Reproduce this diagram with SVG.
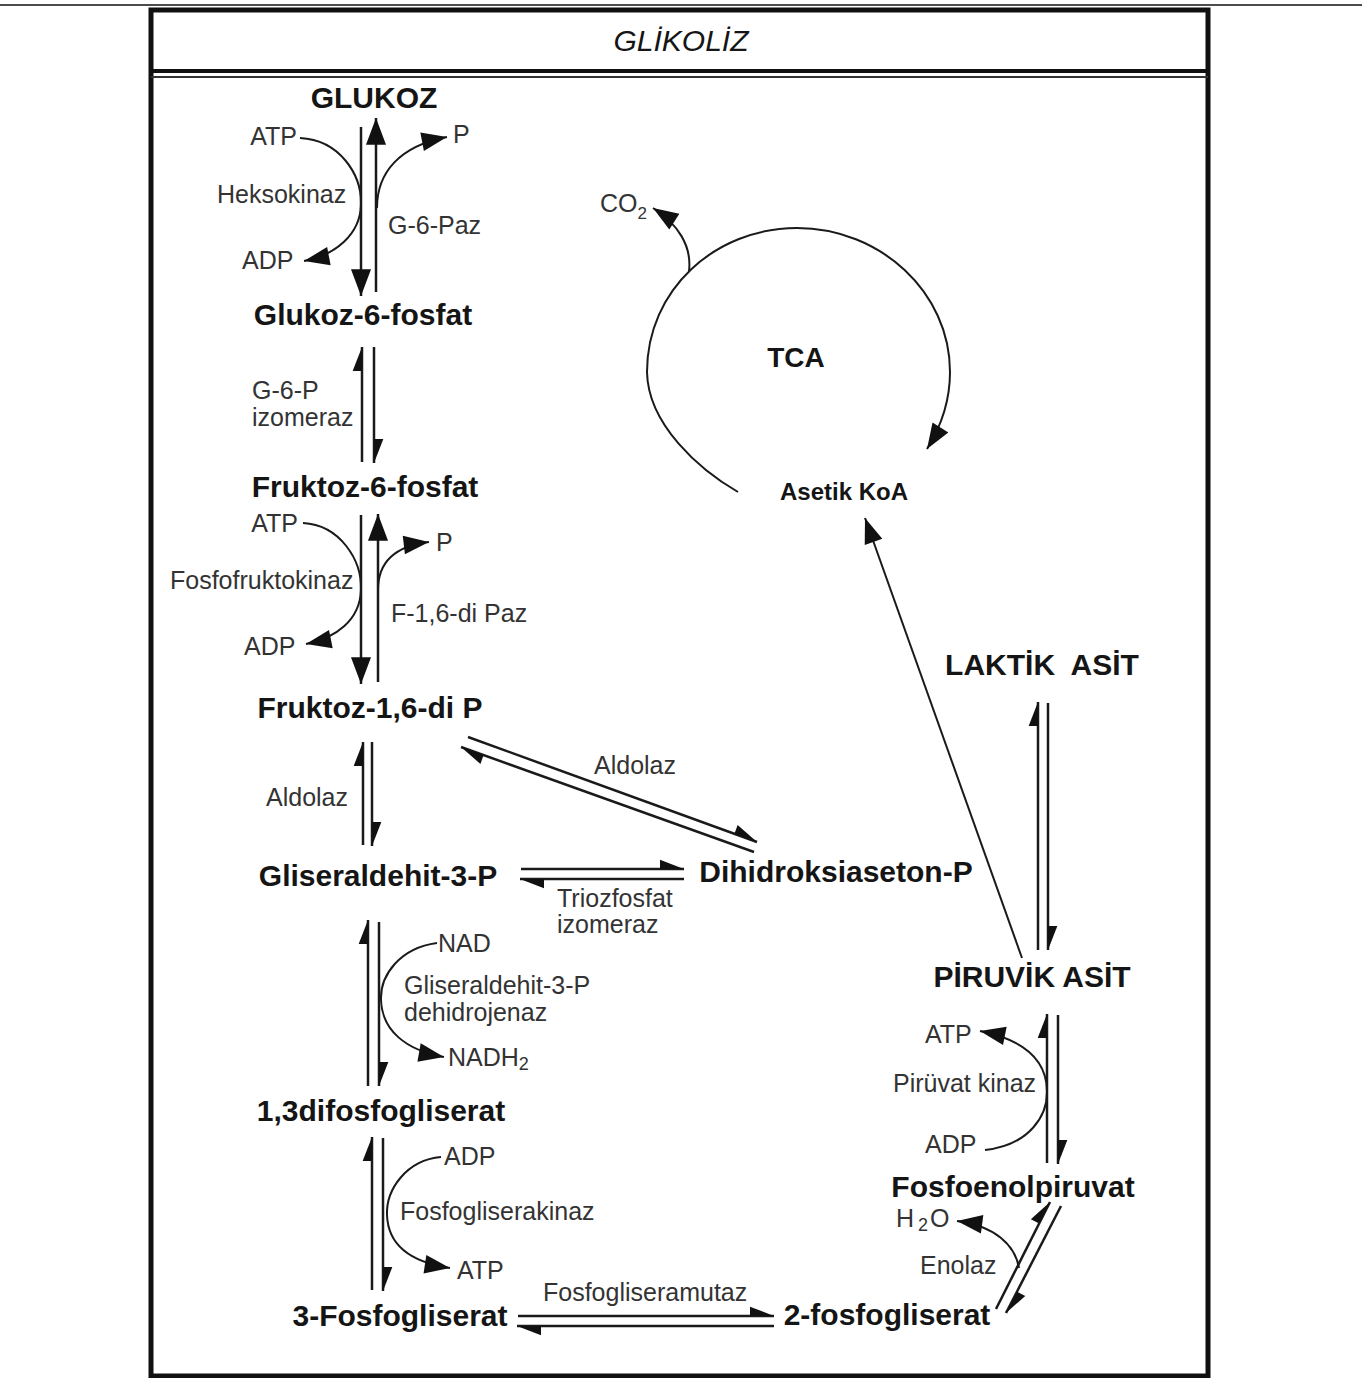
<svg xmlns="http://www.w3.org/2000/svg" width="1362" height="1378" viewBox="0 0 1362 1378">
<style>
.n{font-family:"Liberation Sans",Arial,sans-serif;font-weight:bold;font-size:30px;fill:#151515;text-anchor:middle}
.l{font-family:"Liberation Sans",Arial,sans-serif;font-size:25px;fill:#333}
.c{fill:none;stroke:#1a1a1a;stroke-width:2.5}
.cv{fill:none;stroke:#1a1a1a;stroke-width:2}
.h{marker-end:url(#harp)}
.a{marker-end:url(#arr)}
.as{marker-end:url(#arrs)}
</style>
<defs>
<marker id="arr" markerUnits="userSpaceOnUse" markerWidth="40" markerHeight="40" viewBox="-25 -10 30 20" refX="0" refY="0" orient="auto" overflow="visible">
<path d="M0,0 L-20,-7.5 L-20,7.5 Z" fill="#111"/>
</marker>
<marker id="arrs" markerUnits="userSpaceOnUse" markerWidth="40" markerHeight="40" viewBox="-25 -10 30 20" refX="0" refY="0" orient="auto" overflow="visible">
<path d="M0,0 L-19,-7 L-19,7 Z" fill="#111"/>
</marker>
<marker id="harp" markerUnits="userSpaceOnUse" markerWidth="40" markerHeight="40" viewBox="-25 -10 30 20" refX="0" refY="0" orient="auto" overflow="visible">
<path d="M0,0 L-18,-7 L-18,0 Z" fill="#111"/>
</marker>
</defs>
<rect width="1362" height="1378" fill="#fff"/>
<g id="frame">
<line x1="0" y1="5" x2="1362" y2="5" stroke="#111" stroke-width="1.5"/>
<rect x="151" y="10" width="1057" height="1366" fill="none" stroke="#111" stroke-width="5"/>
<line x1="151" y1="71" x2="1208" y2="71" stroke="#111" stroke-width="4"/>
<line x1="151" y1="77" x2="1208" y2="77" stroke="#333" stroke-width="2"/>
<text x="681" y="51" font-family="Liberation Sans, Arial, sans-serif" font-style="italic" font-size="30" fill="#151515" text-anchor="middle">GLİKOLİZ</text>
</g>
<g id="connectors">
<!-- Glukoz <-> G6P -->
<line class="c a" x1="361" y1="127" x2="361" y2="296"/>
<line class="c a" x1="376" y1="292" x2="376" y2="118"/>
<path class="cv as" d="M300,138 C340,140 362,175 361,205 C360,235 335,255 304,261"/>
<path class="cv as" d="M377,208 C377,172 400,146 447,137"/>
<!-- G6P izomeraz -->
<line class="c h" x1="362" y1="462" x2="362" y2="347"/>
<line class="c h" x1="374" y1="347" x2="374" y2="463"/>
<!-- F6P <-> F16P -->
<line class="c a" x1="361" y1="515" x2="361" y2="684"/>
<line class="c a" x1="378" y1="682" x2="378" y2="514"/>
<path class="cv as" d="M303,523 C340,525 362,560 361,590 C360,620 336,638 306,644"/>
<path class="cv as" d="M378,590 C378,562 395,546 429,542"/>
<!-- Aldolaz vertical -->
<line class="c h" x1="363" y1="845" x2="363" y2="742"/>
<line class="c h" x1="372" y1="742" x2="372" y2="846"/>
<!-- Aldolaz diagonal -->
<line class="c h" x1="468" y1="737" x2="757" y2="842"/>
<line class="c h" x1="754" y1="852" x2="461" y2="747"/>
<!-- Triozfosfat izomeraz -->
<line class="c h" x1="521" y1="869" x2="684" y2="869"/>
<line class="c h" x1="684" y1="879" x2="520" y2="879"/>
<!-- G3P <-> 1,3 -->
<line class="c h" x1="368" y1="1086" x2="368" y2="920"/>
<line class="c h" x1="379" y1="922" x2="379" y2="1086"/>
<path class="cv as" d="M437,943 C400,948 380,975 381,1000 C382,1030 405,1050 444,1057"/>
<!-- 1,3 <-> 3PG -->
<line class="c h" x1="372" y1="1290" x2="372" y2="1137"/>
<line class="c h" x1="383" y1="1138" x2="383" y2="1291"/>
<path class="cv as" d="M441,1157 C406,1160 386,1190 387,1215 C388,1245 410,1262 450,1268"/>
<!-- Fosfogliseramutaz -->
<line class="c h" x1="518" y1="1316" x2="774" y2="1316"/>
<line class="c h" x1="774" y1="1326" x2="517" y2="1326"/>
<!-- 2PG <-> PEP -->
<line class="c h" x1="996" y1="1309" x2="1050" y2="1202"/>
<line class="c h" x1="1061" y1="1206" x2="1006" y2="1313"/>
<path class="cv as" d="M1019,1268 C1015,1245 995,1226 957,1221"/>
<!-- PEP <-> Piruvik -->
<line class="c h" x1="1047" y1="1163" x2="1047" y2="1014"/>
<line class="c h" x1="1058" y1="1015" x2="1058" y2="1164"/>
<path class="cv as" d="M985,1150 C1030,1145 1048,1115 1047,1090 C1046,1060 1025,1040 980,1031"/>
<!-- Piruvik <-> Laktik -->
<line class="c h" x1="1038" y1="950" x2="1038" y2="702"/>
<line class="c h" x1="1048" y1="703" x2="1048" y2="950"/>
<!-- Piruvik -> Asetik KoA -->
<line class="cv as" x1="1022" y1="958" x2="865" y2="518"/>
<!-- TCA cycle -->
<path class="cv as" d="M738,492 C700,470 648,425 647,372 C647,290 715,228 797,228 C880,228 950,292 950,372 C950,400 942,425 927,449"/>
<path class="cv as" d="M689,271 C692,246 678,224 653,208"/>
</g>
<g id="labels">
<text class="l" x="297" y="145" text-anchor="end">ATP</text>
<text class="l" x="453" y="143">P</text>
<text class="l" x="217" y="203">Heksokinaz</text>
<text class="l" x="388" y="234">G-6-Paz</text>
<text class="l" x="242" y="269">ADP</text>
<text class="l" x="600" y="212">CO<tspan font-size="17" dx="0" dy="7">2</tspan></text>
<text class="l" x="252" y="399">G-6-P</text>
<text class="l" x="252" y="426">izomeraz</text>
<text class="l" x="298" y="532" text-anchor="end">ATP</text>
<text class="l" x="436" y="551">P</text>
<text class="l" x="170" y="589">Fosfofruktokinaz</text>
<text class="l" x="391" y="622">F-1,6-di Paz</text>
<text class="l" x="244" y="655">ADP</text>
<text class="l" x="594" y="774">Aldolaz</text>
<text class="l" x="266" y="806">Aldolaz</text>
<text class="l" x="557" y="907">Triozfosfat</text>
<text class="l" x="557" y="933">izomeraz</text>
<text class="l" x="438" y="952">NAD</text>
<text class="l" x="404" y="994">Gliseraldehit-3-P</text>
<text class="l" x="404" y="1021">dehidrojenaz</text>
<text class="l" x="448" y="1066">NADH<tspan font-size="18" dy="4">2</tspan></text>
<text class="l" x="444" y="1165">ADP</text>
<text class="l" x="400" y="1220">Fosfogliserakinaz</text>
<text class="l" x="457" y="1279">ATP</text>
<text class="l" x="543" y="1301">Fosfogliseramutaz</text>
<text class="l" x="925" y="1043">ATP</text>
<text class="l" x="893" y="1092">Pirüvat kinaz</text>
<text class="l" x="925" y="1153">ADP</text>
<text class="l" x="896" y="1227">H<tspan font-size="18" dx="4" dy="4">2</tspan><tspan dx="2" dy="-4">O</tspan></text>
<text class="l" x="920" y="1274">Enolaz</text>
</g>
<g id="glukoz"><text class="n" x="374" y="108">GLUKOZ</text></g>
<g id="glukoz-6-fosfat"><text class="n" x="363" y="325">Glukoz-6-fosfat</text></g>
<g id="fruktoz-6-fosfat"><text class="n" x="365" y="497">Fruktoz-6-fosfat</text></g>
<g id="fruktoz-1-6-di-p"><text class="n" x="370" y="718">Fruktoz-1,6-di P</text></g>
<g id="gliseraldehit-3-p"><text class="n" x="378" y="886">Gliseraldehit-3-P</text></g>
<g id="dihidroksiaseton-p"><text class="n" x="836" y="882">Dihidroksiaseton-P</text></g>
<g id="difosfogliserat"><text class="n" x="381" y="1121">1,3difosfogliserat</text></g>
<g id="fosfogliserat-3"><text class="n" x="400" y="1326">3-Fosfogliserat</text></g>
<g id="fosfogliserat-2"><text class="n" x="887" y="1325">2-fosfogliserat</text></g>
<g id="fosfoenolpiruvat"><text class="n" x="1013" y="1197">Fosfoenolpiruvat</text></g>
<g id="piruvik-asit"><text class="n" x="1032" y="987">PİRUVİK ASİT</text></g>
<g id="laktik-asit"><text class="n" x="1042" y="675">LAKTİK&#160; ASİT</text></g>
<g id="tca"><text class="n" x="796" y="367" style="font-size:28px">TCA</text></g>
<g id="asetik-koa"><text class="n" x="844" y="500" style="font-size:24px">Asetik KoA</text></g>
</svg>
